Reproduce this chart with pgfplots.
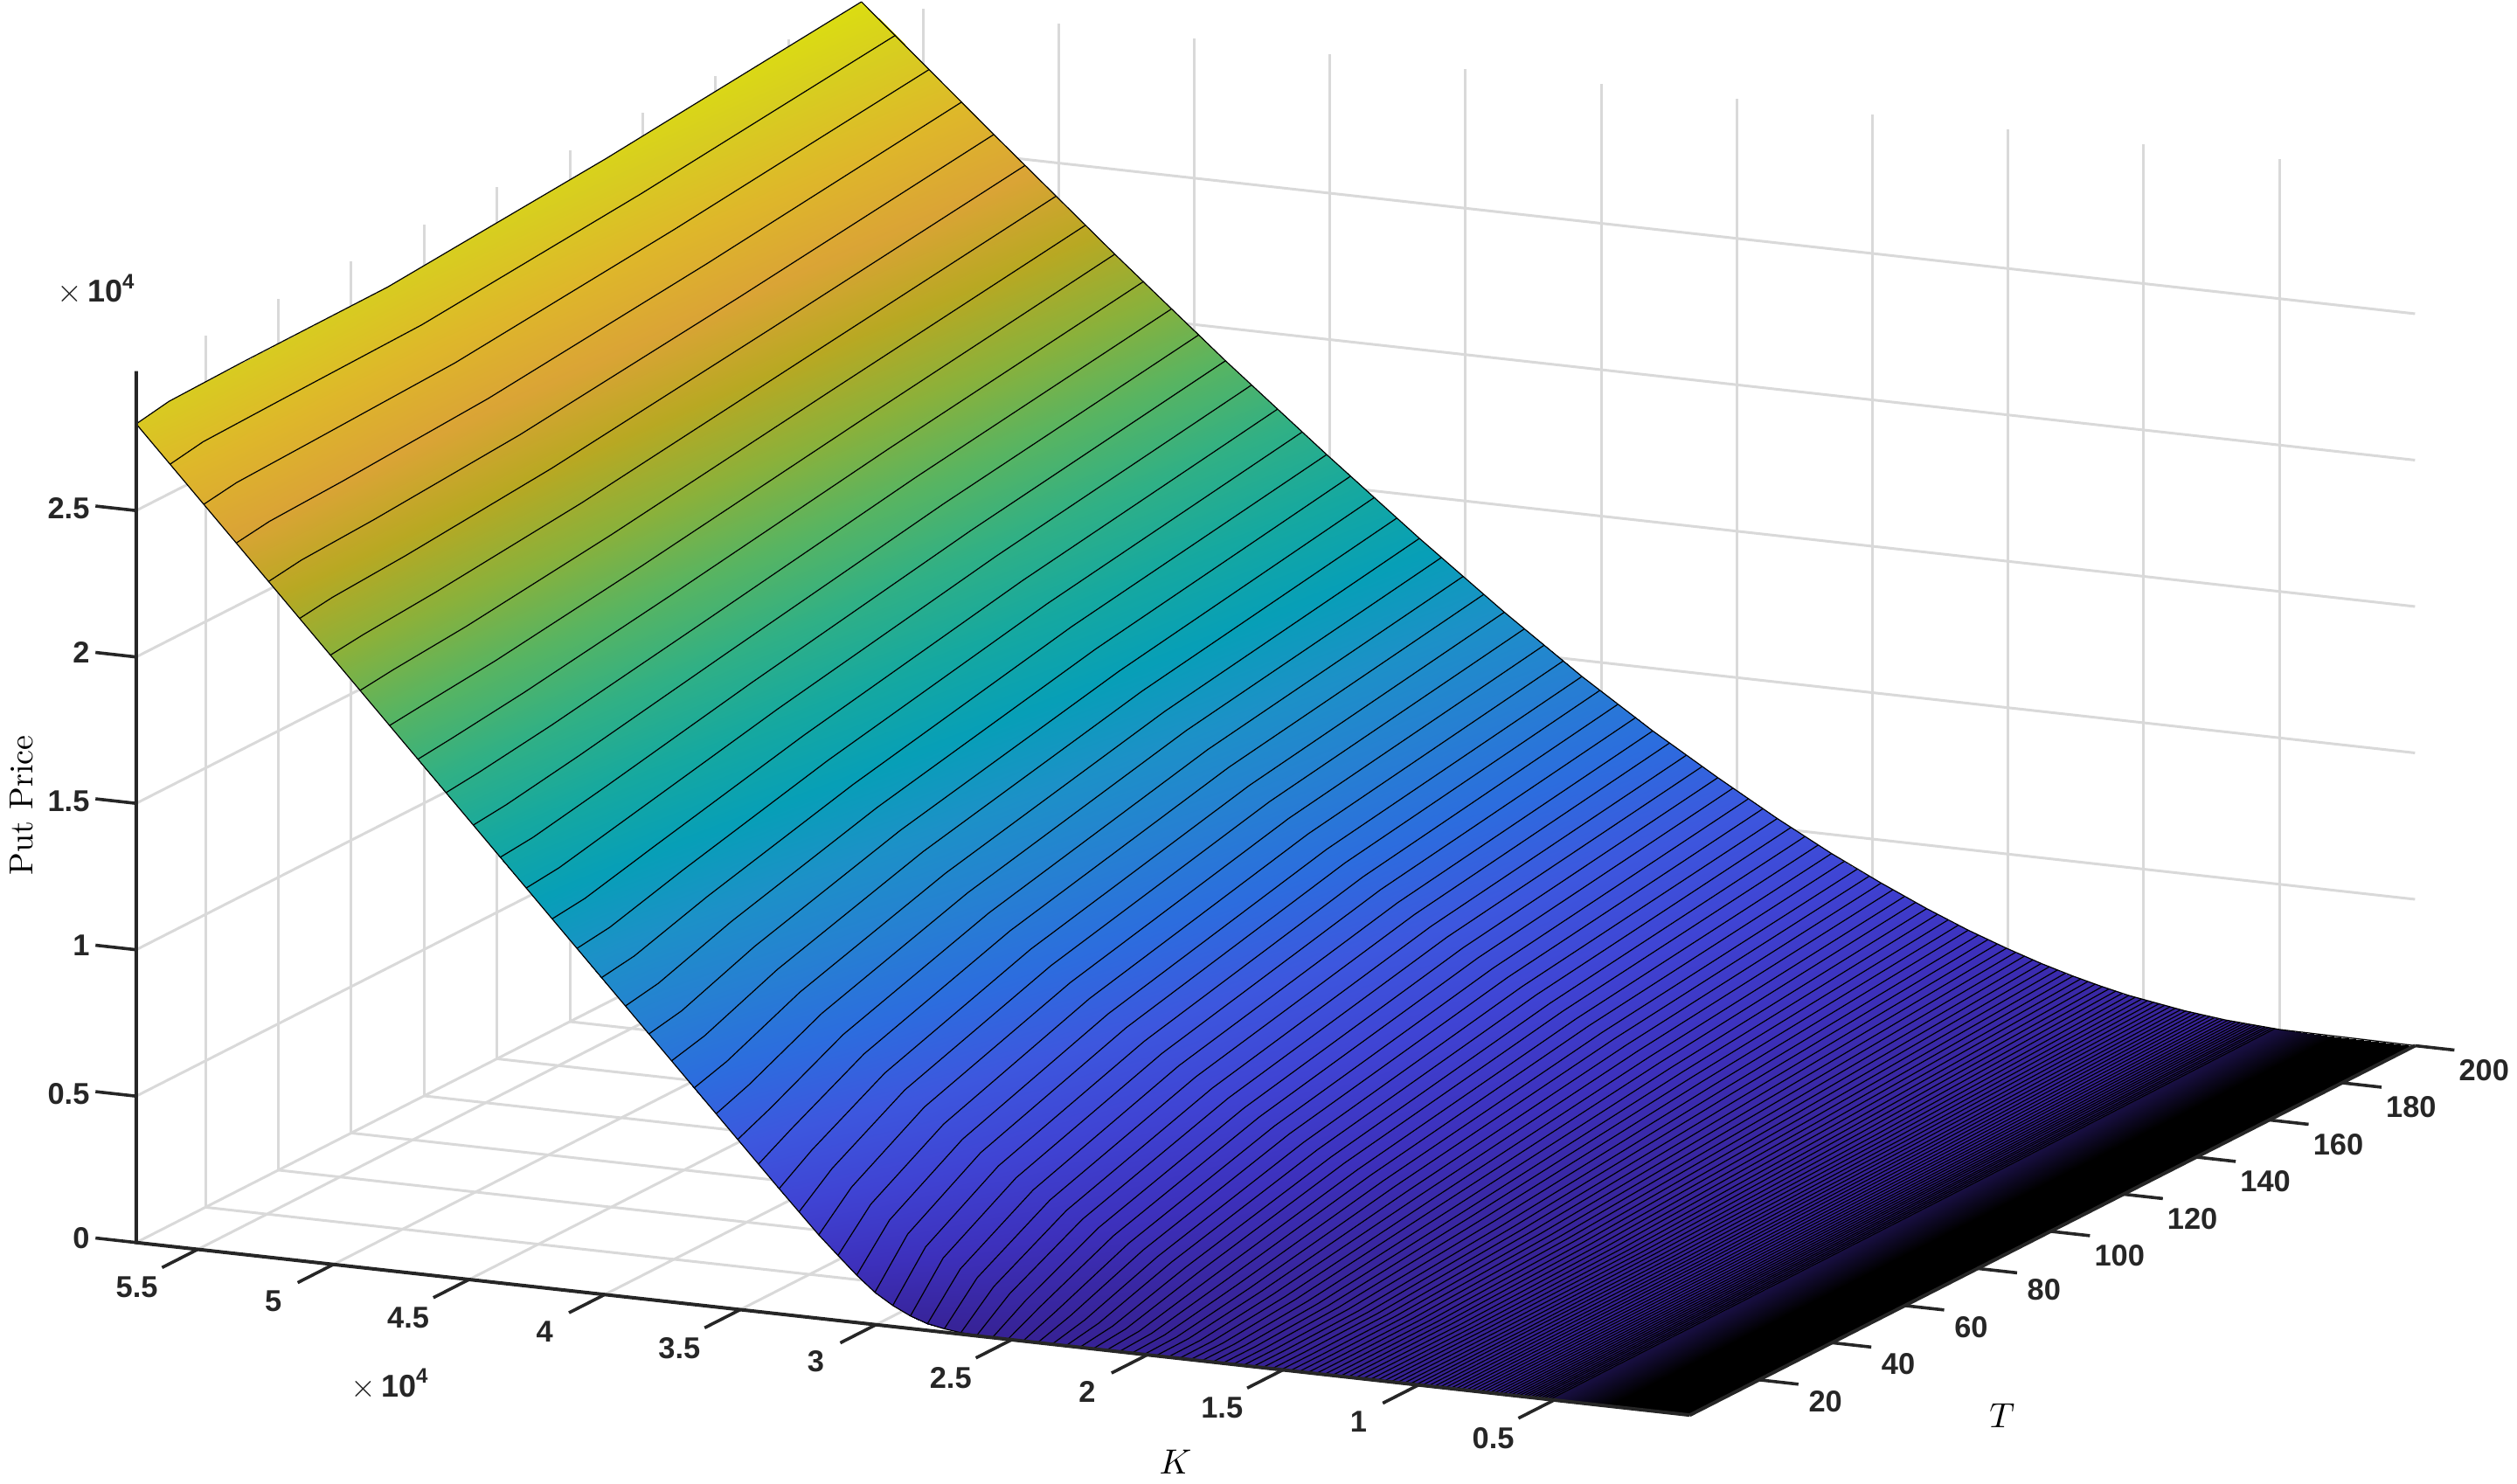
\documentclass[border=0pt]{standalone}
\begin{filecontents*}[overwrite]{surf.dat}
K T z
5.727 1 2.796
5.727 10 2.816
5.727 30 2.822
5.727 70 2.826
5.727 130 2.885
5.727 200 2.976

5.601 1 2.672
5.601 10 2.691
5.601 30 2.698
5.601 70 2.710
5.601 130 2.776
5.601 200 2.875

5.478 1 2.547
5.478 10 2.564
5.478 30 2.573
5.478 70 2.593
5.478 130 2.667
5.478 200 2.770

5.357 1 2.428
5.357 10 2.444
5.357 30 2.454
5.357 70 2.483
5.357 130 2.563
5.357 200 2.672

5.239 1 2.308
5.239 10 2.324
5.239 30 2.336
5.239 70 2.372
5.239 130 2.460
5.239 200 2.573

5.124 1 2.194
5.124 10 2.209
5.124 30 2.224
5.124 70 2.268
5.124 130 2.363
5.124 200 2.479

5.011 1 2.080
5.011 10 2.093
5.011 30 2.112
5.011 70 2.163
5.011 130 2.266
5.011 200 2.385

4.901 1 1.971
4.901 10 1.984
4.901 30 2.005
4.901 70 2.066
4.901 130 2.175
4.901 200 2.298

4.793 1 1.862
4.793 10 1.874
4.793 30 1.899
4.793 70 1.968
4.793 130 2.083
4.793 200 2.210

4.688 1 1.758
4.688 10 1.770
4.688 30 1.801
4.688 70 1.877
4.688 130 1.999
4.688 200 2.127

4.585 1 1.654
4.585 10 1.666
4.585 30 1.701
4.585 70 1.785
4.585 130 1.914
4.585 200 2.044

4.484 1 1.554
4.484 10 1.566
4.484 30 1.607
4.484 70 1.699
4.484 130 1.833
4.484 200 1.966

4.385 1 1.454
4.385 10 1.465
4.385 30 1.512
4.385 70 1.613
4.385 130 1.751
4.385 200 1.888

4.289 1 1.359
4.289 10 1.371
4.289 30 1.425
4.289 70 1.533
4.289 130 1.675
4.289 200 1.815

4.194 1 1.263
4.194 10 1.276
4.194 30 1.336
4.194 70 1.452
4.194 130 1.600
4.194 200 1.742

4.102 1 1.172
4.102 10 1.187
4.102 30 1.255
4.102 70 1.378
4.102 130 1.531
4.102 200 1.674

4.012 1 1.081
4.012 10 1.098
4.012 30 1.174
4.012 70 1.303
4.012 130 1.462
4.012 200 1.606

3.923 1 0.994
3.923 10 1.014
3.923 30 1.098
3.923 70 1.234
3.923 130 1.395
3.923 200 1.542

3.837 1 0.907
3.837 10 0.929
3.837 30 1.022
3.837 70 1.165
3.837 130 1.328
3.837 200 1.477

3.753 1 0.824
3.753 10 0.852
3.753 30 0.952
3.753 70 1.101
3.753 130 1.268
3.753 200 1.416

3.670 1 0.740
3.670 10 0.774
3.670 30 0.883
3.670 70 1.036
3.670 130 1.207
3.670 200 1.355

3.589 1 0.660
3.589 10 0.702
3.589 30 0.819
3.589 70 0.977
3.589 130 1.151
3.589 200 1.298

3.510 1 0.580
3.510 10 0.630
3.510 30 0.755
3.510 70 0.917
3.510 130 1.094
3.510 200 1.241

3.433 1 0.504
3.433 10 0.567
3.433 30 0.697
3.433 70 0.863
3.433 130 1.041
3.433 200 1.188

3.357 1 0.428
3.357 10 0.503
3.357 30 0.639
3.357 70 0.808
3.357 130 0.987
3.357 200 1.135

3.283 1 0.357
3.283 10 0.447
3.283 30 0.589
3.283 70 0.759
3.283 130 0.939
3.283 200 1.086

3.211 1 0.285
3.211 10 0.391
3.211 30 0.538
3.211 70 0.709
3.211 130 0.890
3.211 200 1.037

3.140 1 0.222
3.140 10 0.340
3.140 30 0.487
3.140 70 0.662
3.140 130 0.844
3.140 200 0.991

3.071 1 0.162
3.071 10 0.293
3.071 30 0.442
3.071 70 0.617
3.071 130 0.799
3.071 200 0.945

3.004 1 0.110
3.004 10 0.252
3.004 30 0.403
3.004 70 0.577
3.004 130 0.759
3.004 200 0.905

2.938 1 0.072
2.938 10 0.215
2.938 30 0.365
2.938 70 0.537
2.938 130 0.718
2.938 200 0.864

2.873 1 0.043
2.873 10 0.184
2.873 30 0.331
2.873 70 0.502
2.873 130 0.681
2.873 200 0.825

2.810 1 0.023
2.810 10 0.153
2.810 30 0.296
2.810 70 0.467
2.810 130 0.643
2.810 200 0.786

2.748 1 0.012
2.748 10 0.129
2.748 30 0.268
2.748 70 0.435
2.748 130 0.609
2.748 200 0.751

2.687 1 0.005
2.687 10 0.105
2.687 30 0.239
2.687 70 0.403
2.687 130 0.575
2.687 200 0.715

2.628 1 0.002
2.628 10 0.087
2.628 30 0.215
2.628 70 0.375
2.628 130 0.544
2.628 200 0.683

2.570 1 0.001
2.570 10 0.069
2.570 30 0.191
2.570 70 0.347
2.570 130 0.513
2.570 200 0.651

2.514 1 0
2.514 10 0.056
2.514 30 0.170
2.514 70 0.322
2.514 130 0.485
2.514 200 0.621

2.458 1 0
2.458 10 0.044
2.458 30 0.150
2.458 70 0.297
2.458 130 0.456
2.458 200 0.590

2.404 1 0
2.404 10 0.035
2.404 30 0.133
2.404 70 0.275
2.404 130 0.430
2.404 200 0.562

2.351 1 0
2.351 10 0.026
2.351 30 0.116
2.351 70 0.252
2.351 130 0.404
2.351 200 0.534

2.300 1 0
2.300 10 0.020
2.300 30 0.102
2.300 70 0.232
2.300 130 0.380
2.300 200 0.509

2.249 1 0
2.249 10 0.015
2.249 30 0.089
2.249 70 0.213
2.249 130 0.357
2.249 200 0.483

2.200 1 0
2.200 10 0.011
2.200 30 0.078
2.200 70 0.197
2.200 130 0.336
2.200 200 0.459

2.151 1 0
2.151 10 0.008
2.151 30 0.067
2.151 70 0.180
2.151 130 0.315
2.151 200 0.435

2.104 1 0
2.104 10 0.006
2.104 30 0.058
2.104 70 0.165
2.104 130 0.296
2.104 200 0.413

2.057 1 0
2.057 10 0.005
2.057 30 0.050
2.057 70 0.151
2.057 130 0.277
2.057 200 0.391

2.012 1 0
2.012 10 0.003
2.012 30 0.043
2.012 70 0.138
2.012 130 0.260
2.012 200 0.372

1.968 1 0
1.968 10 0.002
1.968 30 0.037
1.968 70 0.125
1.968 130 0.243
1.968 200 0.353

1.924 1 0
1.924 10 0.001
1.924 30 0.032
1.924 70 0.114
1.924 130 0.228
1.924 200 0.335

1.882 1 0
1.882 10 0.001
1.882 30 0.027
1.882 70 0.103
1.882 130 0.212
1.882 200 0.316

1.841 1 0
1.841 10 0
1.841 30 0.023
1.841 70 0.094
1.841 130 0.198
1.841 200 0.300

1.800 1 0
1.800 10 0
1.800 30 0.019
1.800 70 0.085
1.800 130 0.185
1.800 200 0.283

1.760 1 0
1.760 10 0
1.760 30 0.016
1.760 70 0.077
1.760 130 0.173
1.760 200 0.268

1.722 1 0
1.722 10 0
1.722 30 0.013
1.722 70 0.070
1.722 130 0.161
1.722 200 0.252

1.684 1 0
1.684 10 0
1.684 30 0.011
1.684 70 0.063
1.684 130 0.150
1.684 200 0.238

1.647 1 0
1.647 10 0
1.647 30 0.009
1.647 70 0.056
1.647 130 0.139
1.647 200 0.225

1.610 1 0
1.610 10 0
1.610 30 0.007
1.610 70 0.050
1.610 130 0.129
1.610 200 0.212

1.575 1 0
1.575 10 0
1.575 30 0.006
1.575 70 0.045
1.575 130 0.120
1.575 200 0.200

1.540 1 0
1.540 10 0
1.540 30 0.005
1.540 70 0.041
1.540 130 0.111
1.540 200 0.189

1.506 1 0
1.506 10 0
1.506 30 0.004
1.506 70 0.037
1.506 130 0.103
1.506 200 0.178

1.473 1 0
1.473 10 0
1.473 30 0.003
1.473 70 0.033
1.473 130 0.095
1.473 200 0.167

1.441 1 0
1.441 10 0
1.441 30 0.003
1.441 70 0.029
1.441 130 0.088
1.441 200 0.157

1.409 1 0
1.409 10 0
1.409 30 0.002
1.409 70 0.026
1.409 130 0.081
1.409 200 0.148

1.378 1 0
1.378 10 0
1.378 30 0.002
1.378 70 0.023
1.378 130 0.075
1.378 200 0.139

1.348 1 0
1.348 10 0
1.348 30 0.001
1.348 70 0.020
1.348 130 0.069
1.348 200 0.131

1.318 1 0
1.318 10 0
1.318 30 0.001
1.318 70 0.018
1.318 130 0.064
1.318 200 0.123

1.289 1 0
1.289 10 0
1.289 30 0.001
1.289 70 0.016
1.289 130 0.059
1.289 200 0.115

1.261 1 0
1.261 10 0
1.261 30 0.001
1.261 70 0.014
1.261 130 0.054
1.261 200 0.108

1.233 1 0
1.233 10 0
1.233 30 0
1.233 70 0.012
1.233 130 0.050
1.233 200 0.101

1.206 1 0
1.206 10 0
1.206 30 0
1.206 70 0.011
1.206 130 0.046
1.206 200 0.095

1.179 1 0
1.179 10 0
1.179 30 0
1.179 70 0.009
1.179 130 0.042
1.179 200 0.089

1.153 1 0
1.153 10 0
1.153 30 0
1.153 70 0.008
1.153 130 0.039
1.153 200 0.083

1.128 1 0
1.128 10 0
1.128 30 0
1.128 70 0.007
1.128 130 0.036
1.128 200 0.078

1.103 1 0
1.103 10 0
1.103 30 0
1.103 70 0.006
1.103 130 0.033
1.103 200 0.073

1.079 1 0
1.079 10 0
1.079 30 0
1.079 70 0.005
1.079 130 0.030
1.079 200 0.068

1.055 1 0
1.055 10 0
1.055 30 0
1.055 70 0.005
1.055 130 0.027
1.055 200 0.063

1.032 1 0
1.032 10 0
1.032 30 0
1.032 70 0.004
1.032 130 0.025
1.032 200 0.059

1.009 1 0
1.009 10 0
1.009 30 0
1.009 70 0.004
1.009 130 0.023
1.009 200 0.055
\end{filecontents*}
\usepackage{pgfplots}
\pgfplotsset{compat=1.18}
\usepackage{fontspec}
\newfontfamily\hv{Liberation Sans}
\definecolor{p0}{rgb}{.2422,.1504,.6603}
\definecolor{p1}{rgb}{.2706,.2147,.8364}
\definecolor{p2}{rgb}{.2813,.3006,.9414}
\definecolor{p3}{rgb}{.2699,.3892,.9906}
\definecolor{p4}{rgb}{.1963,.4847,.9892}
\definecolor{p5}{rgb}{.1687,.5703,.9359}
\definecolor{p6}{rgb}{.1248,.6459,.8883}
\definecolor{p7}{rgb}{.0297,.7082,.8163}
\definecolor{p8}{rgb}{.0964,.75,.712}
\definecolor{p9}{rgb}{.2161,.7843,.5923}
\definecolor{p10}{rgb}{.3909,.8029,.4354}
\definecolor{p11}{rgb}{.6174,.7876,.2612}
\definecolor{p12}{rgb}{.8203,.7498,.1535}
\definecolor{p13}{rgb}{.9728,.7298,.2394}
\definecolor{p14}{rgb}{.9892,.8136,.1885}
\definecolor{p15}{rgb}{.9597,.9135,.1423}
\definecolor{p16}{rgb}{.9769,.9839,.0805}
\def\dk{88}
\definecolor{axisdark}{gray}{.15}
\begin{document}
\begin{tikzpicture}
\useasboundingbox (0,0) rectangle (720pt,424.5pt);
\begin{axis}[
  at={(483.38pt,19.7pt)}, anchor=origin, disabledatascaling,
  y={(-77.6pt,8.62pt)}, x={(1.0425pt,0.531pt)}, z={(0pt,83.75pt)},
  ymin=0, ymax=5.727, xmin=1, xmax=200, zmin=0, zmax=2.976,
  clip=false,
  colormap={parulaD}{
    color(0pt)=(black);
    color(40pt)=(p0!\dk!black); color(59pt)=(p1!\dk!black); color(78pt)=(p2!\dk!black);
    color(97pt)=(p3!\dk!black); color(116pt)=(p4!\dk!black); color(135pt)=(p5!\dk!black);
    color(154pt)=(p6!\dk!black); color(172pt)=(p7!\dk!black); color(191pt)=(p8!\dk!black);
    color(210pt)=(p9!\dk!black); color(229pt)=(p10!\dk!black); color(248pt)=(p11!\dk!black);
    color(267pt)=(p12!\dk!black); color(286pt)=(p13!\dk!black); color(305pt)=(p14!\dk!black);
    color(324pt)=(p15!\dk!black); color(338pt)=(p16!\dk!black)
  },
  point meta min=-0.4, point meta max=2.976,
  grid=major, grid style={line width=.75pt, gray!30},
  ytick={0.5,1,1.5,2,2.5,3,3.5,4,4.5,5,5.5},
  yticklabels={0.5,1,1.5,2,2.5,3,3.5,4,4.5,5,5.5},
  xtick={20,40,60,80,100,120,140,160,180,200},
  xticklabels={20,40,60,80,100,120,140,160,180,200},
  ztick={0,0.5,1,1.5,2,2.5},
  zticklabels={0,0.5,1,1.5,2,2.5},
  tick label style={font=\hv\bfseries\fontsize{8.6}{10}\selectfont, text=axisdark},
  y tick label style={xshift=-2.8pt,yshift=1.4pt},
  x tick label style={xshift=0.9pt,yshift=2.5pt},
  z tick label style={xshift=1.6pt,yshift=1.1pt},
  tick align=outside, major tick length=11.5pt,
  tick style={draw=none},
  axis line style={draw=none},
  ylabel={$K$}, xlabel={$T$}, zlabel={Put Price},
  every axis y label/.style={at={(axis cs:-44.9,1.279,0)},anchor=center,font=\fontsize{10}{12}\selectfont},
  every axis x label/.style={at={(axis cs:16.2,-0.947,0)},anchor=center,font=\fontsize{10}{12}\selectfont},
  every axis z label/.style={at={(axis cs:1,6.148,1.45)},anchor=center,rotate=90,font=\fontsize{9.5}{12}\selectfont},
]
\addplot3[surf, shader=interp, mesh/ordering=x varies, empty line=scanline,
  point meta={\thisrow{z}}] table[x=T,y=K,z=z] {surf.dat};
\addplot3[surf, shader=interp, mesh/ordering=x varies, empty line=scanline,
  point meta={\thisrow{z}-0.515*max(0,0.75-\thisrow{K})}] table[x=T,y=K,z=z] {
K T z
1.009 1 0
1.009 10 0
1.009 30 0
1.009 70 0.004
1.009 130 0.023
1.009 200 0.055

0.85 1 0
0.85 10 0
0.85 30 0
0.85 70 0.001
0.85 130 0.011
0.85 200 0.032

0.75 1 0
0.75 10 0
0.75 30 0
0.75 70 0
0.75 130 0.006
0.75 200 0.021

0.65 1 0
0.65 10 0
0.65 30 0
0.65 70 0
0.65 130 0.003
0.65 200 0.012

0.517 1 0
0.517 10 0
0.517 30 0
0.517 70 0
0.517 130 0.001
0.517 200 0.005
};
\addplot3[surf, shader=interp, mesh/ordering=x varies, empty line=scanline,
  point meta={max(-0.4,\thisrow{z}-0.22-0.83*max(0,0.517-\thisrow{K}))}] table[x=T,y=K,z=z] {
K T z
0.517 1 0
0.517 10 0
0.517 30 0
0.517 70 0
0.517 130 0.001
0.517 200 0.005

0.40 1 0
0.40 10 0
0.40 30 0
0.40 70 0
0.40 130 0
0.40 200 0.002

0.30 1 0
0.30 10 0
0.30 30 0
0.30 70 0
0.30 130 0
0.30 200 0

0 1 0
0 10 0
0 30 0
0 70 0
0 130 0
0 200 0
};
\addplot3[black, line width=.3pt, empty line=jump, unbounded coords=jump, forget plot] table[x=T,y=K,z=z] {surf.dat};
% back and front edges of the surface
\addplot3[black, line width=.3pt, forget plot] coordinates {(200,5.727,2.976)(200,5.239,2.573)(200,4.793,2.210)(200,4.385,1.888)(200,4.012,1.606)(200,3.670,1.355)(200,3.357,1.135)(200,3.071,0.945)(200,2.810,0.786)(200,2.570,0.651)(200,2.351,0.534)(200,2.151,0.435)(200,1.968,0.353)(200,1.800,0.283)(200,1.647,0.225)(200,1.506,0.178)(200,1.378,0.139)(200,1.261,0.108)(200,1.153,0.083)(200,1.055,0.063)(200,0.85,0.032)(200,0.7,0.016)(200,0.5,0.004)(200,0,0)};
\addplot3[black, line width=.3pt, forget plot] coordinates {(1,5.727,2.796)(1,4.793,1.862)(1,3.837,0.907)(1,3.357,0.428)(1,3.211,0.285)(1,3.140,0.222)(1,3.071,0.162)(1,3.004,0.110)(1,2.938,0.072)(1,2.873,0.043)(1,2.810,0.023)(1,2.748,0.012)(1,2.687,0.005)(1,2.570,0.001)(1,2.458,0)(1,0,0)};
% constant K lines where the mesh tightens towards K = 0
\addplot3[black, line width=.3pt, empty line=jump, unbounded coords=jump, forget plot] table[x index=1,y index=0,z index=2] {
0.987 1 0
0.987 70 0.003
0.987 130 0.021
0.987 200 0.052

0.965 1 0
0.965 70 0.003
0.965 130 0.019
0.965 200 0.049

0.944 1 0
0.944 70 0.002
0.944 130 0.018
0.944 200 0.046

0.923 1 0
0.923 70 0.002
0.923 130 0.016
0.923 200 0.043

0.903 1 0
0.903 70 0.002
0.903 130 0.015
0.903 200 0.040

0.883 1 0
0.883 70 0.001
0.883 130 0.013
0.883 200 0.037

0.864 1 0
0.864 70 0.001
0.864 130 0.012
0.864 200 0.034

0.845 1 0
0.845 70 0.001
0.845 130 0.011
0.845 200 0.032

0.826 1 0
0.826 70 0
0.826 130 0.010
0.826 200 0.030

0.808 1 0
0.808 70 0
0.808 130 0.009
0.808 200 0.028

0.790 1 0
0.790 70 0
0.790 130 0.008
0.790 200 0.026

0.773 1 0
0.773 70 0
0.773 130 0.007
0.773 200 0.024

0.756 1 0
0.756 70 0
0.756 130 0.006
0.756 200 0.022

0.739 1 0
0.739 70 0
0.739 130 0.006
0.739 200 0.020

0.723 1 0
0.723 70 0
0.723 130 0.005
0.723 200 0.018

0.707 1 0
0.707 70 0
0.707 130 0.005
0.707 200 0.017

0.691 1 0
0.691 70 0
0.691 130 0.004
0.691 200 0.015

0.676 1 0
0.676 70 0
0.676 130 0.004
0.676 200 0.014

0.661 1 0
0.661 70 0
0.661 130 0.003
0.661 200 0.013

0.646 1 0
0.646 70 0
0.646 130 0.003
0.646 200 0.012

0.632 1 0
0.632 70 0
0.632 130 0.002
0.632 200 0.011

0.618 1 0
0.618 70 0
0.618 130 0.002
0.618 200 0.010

0.605 1 0
0.605 70 0
0.605 130 0.002
0.605 200 0.009

0.591 1 0
0.591 70 0
0.591 130 0.002
0.591 200 0.008

0.578 1 0
0.578 70 0
0.578 130 0.001
0.578 200 0.007

0.566 1 0
0.566 70 0
0.566 130 0.001
0.566 200 0.007

0.553 1 0
0.553 70 0
0.553 130 0.001
0.553 200 0.006

0.541 1 0
0.541 70 0
0.541 130 0.001
0.541 200 0.006

0.529 1 0
0.529 70 0
0.529 130 0.001
0.529 200 0.005

0.517 1 0
0.517 70 0
0.517 130 0.001
0.517 200 0.005
};
% the three visible axis lines and their ticks
\draw[axisdark, line width=1pt] (axis cs:1,0,0) -- (axis cs:1,5.727,0) -- (axis cs:1,5.727,2.976);
\draw[axisdark, line width=1pt] (axis cs:1,0,0) -- (axis cs:200,0,0);
\pgfplotsinvokeforeach{0.5,1,1.5,2,2.5,3,3.5,4,4.5,5,5.5}{
  \draw[axisdark, line width=.9pt] (axis cs:1,#1,0) -- (axis cs:-8.8,#1,0);}
\pgfplotsinvokeforeach{20,40,60,80,100,120,140,160,180,200}{
  \draw[axisdark, line width=.9pt] (axis cs:#1,0,0) -- (axis cs:#1,-0.145,0);}
\pgfplotsinvokeforeach{0,0.5,1,1.5,2,2.5}{
  \draw[axisdark, line width=.9pt] (axis cs:1,5.727,#1) -- (axis cs:1,5.877,#1);}
\end{axis}
\node[font=\hv\fontsize{9}{10}\selectfont, text=axisdark] at (111.6pt,28.5pt) {$\times$\,\textbf{10\textsuperscript{4}}};
\node[font=\hv\fontsize{9}{10}\selectfont, text=axisdark] at (27.6pt,341.6pt) {$\times$\,\textbf{10\textsuperscript{4}}};
\end{tikzpicture}
\end{document}
